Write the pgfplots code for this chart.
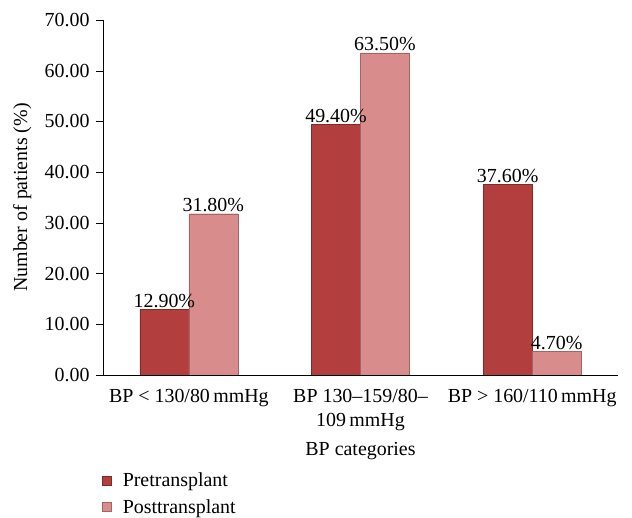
\documentclass[border=0pt]{standalone}
\usepackage{pgfplots}
\pgfplotsset{compat=1.18}
\usepackage{fontspec}
\setmainfont{Liberation Serif}
\definecolor{preC}{RGB}{178,62,62}
\definecolor{preD}{RGB}{130,40,40}
\definecolor{postC}{RGB}{216,140,140}
\definecolor{postD}{RGB}{165,100,100}
\newcommand{\ff}{\fontsize{20}{24}\selectfont}
\begin{document}
\begin{tikzpicture}
\begin{axis}[
  scale only axis,
  width=515bp, height=355bp,
  font=\ff,
  ymin=0, ymax=70, ytick distance=10,
  xmin=-0.5, xmax=2.5,
  axis lines*=left,
  axis line style={-, black},
  /pgf/number format/assume math mode=true,
  yticklabel style={xshift=-3bp, /pgf/number format/.cd, fixed, fixed zerofill, precision=2},
  scaled y ticks=false,
  tick align=outside,
  major tick length=7bp,
  tick style={black, thin},
  xtick={0,1,2},
  xticklabels={BP < 130/80\,mmHg, {BP 130–159/80–\\109\,mmHg}, BP > 160/110\,mmHg},
  xticklabel style={align=center, yshift=-4bp},
  x tick style={draw=none},
  extra x ticks={-0.5,0.5,1.5,2.5},
  extra x tick labels={},
  extra x tick style={tick style={draw=black, thin}, major tick length=8bp},
  ylabel={Number of patients (\%)},
  xlabel={BP categories},
  ylabel style={at={(axis description cs:-0.157,0.5)}, anchor=center},
  xlabel style={at={(axis description cs:0.5,-0.213)}, anchor=center},
  ybar=0pt,
  bar width=0.285,
  nodes near coords={\pgfmathprintnumber[fixed,fixed zerofill,precision=2]{\pgfplotspointmeta}\%},
  nodes near coords style={font=\ff, inner sep=1.5bp},
  legend style={at={(axis description cs:-0.002,-0.27)}, anchor=north west, draw=none, fill=none,
    font=\ff, row sep=7bp, column sep=9bp, legend cell align=left, inner sep=0pt, nodes={inner sep=2bp}},
  legend image code/.code={\draw[#1, line width=0.6pt] (0bp,-4.5bp) rectangle (9bp,4.5bp);},
]
\addplot[fill=preC, draw=preD, bar shift=-0.1425] coordinates {(0,12.9) (1,49.4) (2,37.6)};
\addplot[fill=postC, draw=postD, bar shift=0.1425] coordinates {(0,31.8) (1,63.5) (2,4.7)};
\legend{Pretransplant, Posttransplant}
\end{axis}
\path ([shift={(-103bp,-143bp)}]current axis.south west) rectangle ([shift={(14bp,20bp)}]current axis.north east);
\end{tikzpicture}
\end{document}
